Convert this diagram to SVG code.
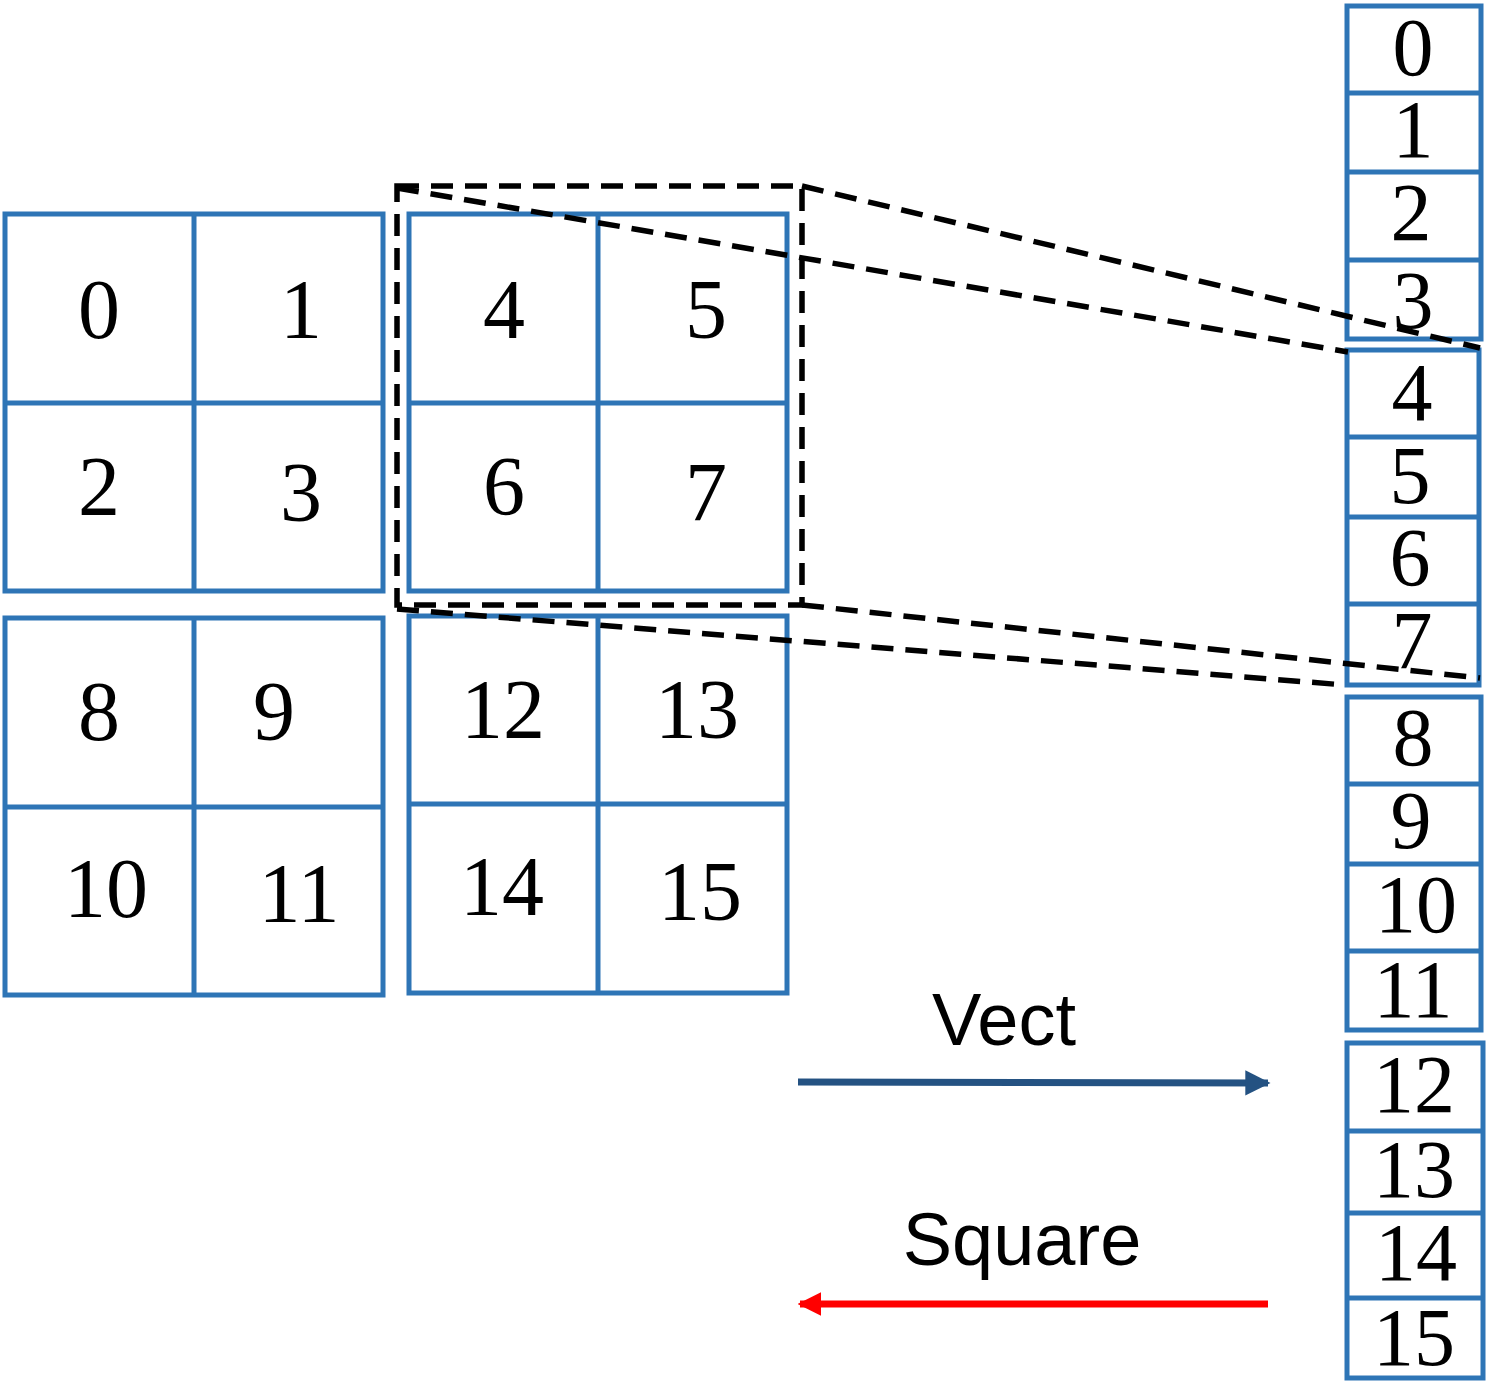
<svg xmlns="http://www.w3.org/2000/svg" width="1488" height="1392" viewBox="0 0 1488 1392">
<style>
.cell{fill:none;stroke:#2E75B6;stroke-width:5}
.num{font-family:"Liberation Serif","DejaVu Serif",serif;font-size:84px;fill:#000;text-anchor:middle}
.col{font-family:"Liberation Serif","DejaVu Serif",serif;font-size:82px;fill:#000;text-anchor:middle}
.lbl{font-family:"Liberation Sans",Arial,sans-serif;font-size:74px;fill:#000;text-anchor:middle}
.dash{fill:none;stroke:#000;stroke-width:5.5;stroke-dasharray:22 12}
</style>
<defs>
<marker id="ab" viewBox="0 0 10 10" refX="9" refY="5" markerWidth="3.6" markerHeight="3.8" orient="auto" markerUnits="strokeWidth"><path d="M0,0 L10,5 L0,10 Z" fill="#245282"/></marker>
<marker id="ar" viewBox="0 0 10 10" refX="9" refY="5" markerWidth="3.4" markerHeight="3.6" orient="auto" markerUnits="strokeWidth"><path d="M0,0 L10,5 L0,10 Z" fill="#FF0000"/></marker>
</defs>
<rect width="1488" height="1392" fill="#fff"/>
<g id="block-a">
<rect class="cell" x="5" y="214" width="378" height="377"/>
<line class="cell" x1="194" y1="214" x2="194" y2="591"/>
<line class="cell" x1="5" y1="403" x2="383" y2="403"/>
<text class="num" x="99" y="338">0</text>
<text class="num" x="301" y="338">1</text>
<text class="num" x="99" y="515">2</text>
<text class="num" x="301" y="521">3</text>
</g>
<g id="block-b">
<rect class="cell" x="409" y="214" width="378" height="377"/>
<line class="cell" x1="598" y1="214" x2="598" y2="591"/>
<line class="cell" x1="409" y1="403" x2="787" y2="403"/>
<text class="num" x="504" y="338">4</text>
<text class="num" x="706" y="338">5</text>
<text class="num" x="504" y="515">6</text>
<text class="num" x="706" y="521">7</text>
</g>
<g id="block-c">
<rect class="cell" x="5" y="618" width="378" height="377"/>
<line class="cell" x1="194" y1="618" x2="194" y2="995"/>
<line class="cell" x1="5" y1="807" x2="383" y2="807"/>
<text class="num" x="99" y="740">8</text>
<text class="num" x="274" y="740">9</text>
<text class="num" x="106" y="917">10</text>
<text class="num" x="299" y="922">11</text>
</g>
<g id="block-d">
<rect class="cell" x="409" y="616" width="378" height="377"/>
<line class="cell" x1="598" y1="616" x2="598" y2="993"/>
<line class="cell" x1="409" y1="804" x2="787" y2="804"/>
<text class="num" x="503" y="738">12</text>
<text class="num" x="697" y="738">13</text>
<text class="num" x="502" y="915">14</text>
<text class="num" x="700" y="920">15</text>
</g>
<g id="vector-1">
<rect class="cell" x="1347" y="6" width="134" height="333"/>
<line class="cell" x1="1347" y1="93" x2="1481" y2="93"/>
<line class="cell" x1="1347" y1="172" x2="1481" y2="172"/>
<line class="cell" x1="1347" y1="260" x2="1481" y2="260"/>
<text class="col" x="1413" y="75">0</text>
<text class="col" x="1413" y="157">1</text>
<text class="col" x="1411" y="240">2</text>
<text class="col" x="1413" y="328">3</text>
</g>
<g id="vector-2">
<rect class="cell" x="1347" y="350" width="132" height="335"/>
<line class="cell" x1="1347" y1="437" x2="1479" y2="437"/>
<line class="cell" x1="1347" y1="517" x2="1479" y2="517"/>
<line class="cell" x1="1347" y1="604" x2="1479" y2="604"/>
<text class="col" x="1412" y="420">4</text>
<text class="col" x="1410" y="503">5</text>
<text class="col" x="1410" y="585">6</text>
<text class="col" x="1412" y="668">7</text>
</g>
<g id="vector-3">
<rect class="cell" x="1347" y="697" width="134" height="333"/>
<line class="cell" x1="1347" y1="784" x2="1481" y2="784"/>
<line class="cell" x1="1347" y1="864" x2="1481" y2="864"/>
<line class="cell" x1="1347" y1="951" x2="1481" y2="951"/>
<text class="col" x="1413" y="765">8</text>
<text class="col" x="1411" y="848">9</text>
<text class="col" x="1416" y="932">10</text>
<text class="col" x="1413" y="1017">11</text>
</g>
<g id="vector-4">
<rect class="cell" x="1347" y="1043" width="136" height="335"/>
<line class="cell" x1="1347" y1="1131" x2="1483" y2="1131"/>
<line class="cell" x1="1347" y1="1213" x2="1483" y2="1213"/>
<line class="cell" x1="1347" y1="1298" x2="1483" y2="1298"/>
<text class="col" x="1414" y="1112">12</text>
<text class="col" x="1414" y="1197">13</text>
<text class="col" x="1416" y="1280">14</text>
<text class="col" x="1414" y="1365">15</text>
</g>
<g id="selection">
<rect class="dash" x="397" y="186" width="405" height="419"/>
</g>
<g id="connectors">
<line class="dash" x1="802" y1="186" x2="1480" y2="348"/>
<line class="dash" x1="397" y1="188" x2="1348" y2="352"/>
<line class="dash" x1="802" y1="605" x2="1480" y2="678"/>
<line class="dash" x1="397" y1="609" x2="1345" y2="685"/>
<line x1="798" y1="1082" x2="1268" y2="1083" stroke="#245282" stroke-width="7" marker-end="url(#ab)"/>
<line x1="1268" y1="1304" x2="800" y2="1304" stroke="#FF0000" stroke-width="7" marker-end="url(#ar)"/>
<text class="lbl" x="1004" y="1045">Vect</text>
<text class="lbl" x="1022" y="1265">Square</text>
</g>
</svg>
